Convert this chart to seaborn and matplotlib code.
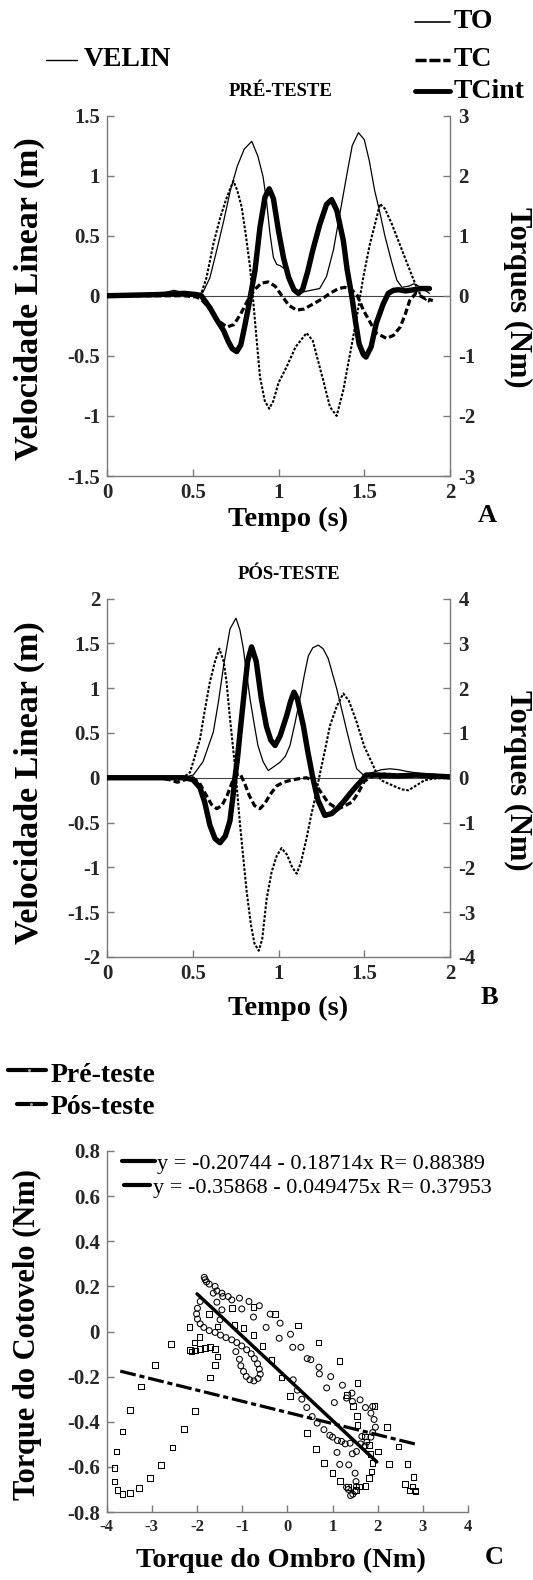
import matplotlib
matplotlib.use("Agg")
import matplotlib.pyplot as plt
import seaborn as sns
import numpy as np
from matplotlib.lines import Line2D

sns.set_theme(style="ticks")
plt.rcParams["font.family"] = ["Liberation Serif", "DejaVu Serif"]
plt.rcParams["font.weight"] = "bold"
plt.rcParams["axes.unicode_minus"] = False

# ---------------- DATA ----------------
# Panel A (pre-test) : VELIN in m (left axis), torques in Nm (right axis)
tA_vel = [0, 0.25, 0.32, 0.39, 0.46, 0.52, 0.56, 0.60, 0.64, 0.68, 0.72, 0.76, 0.80, 0.844, 0.88, 0.91,
          0.93, 0.95, 0.97, 0.99, 1.01, 1.05, 1.09, 1.11, 1.17, 1.24, 1.28, 1.32, 1.36, 1.40, 1.43, 1.466,
          1.50, 1.53, 1.56, 1.59, 1.62, 1.66, 1.69, 1.72, 1.76, 1.79, 1.83, 1.88]
vA_vel = [0, 0, 0.02, 0.045, 0.02, 0.0, 0.03, 0.15, 0.38, 0.62, 0.88, 1.08, 1.22, 1.285, 1.16, 0.99,
          0.79, 0.52, 0.32, 0.26, 0.25, 0.21, 0.06, 0.02, 0.04, 0.06, 0.16, 0.38, 0.70, 1.02, 1.25, 1.357,
          1.30, 1.12, 0.88, 0.70, 0.50, 0.28, 0.13, 0.07, 0.08, 0.10, 0.07, 0.02]

tA_TO = [0, 0.30, 0.40, 0.50, 0.55, 0.58, 0.62, 0.66, 0.70, 0.737, 0.76, 0.785, 0.81, 0.834, 0.85, 0.87,
         0.892, 0.92, 0.946, 0.97, 1.00, 1.048, 1.10, 1.164, 1.20, 1.26, 1.30, 1.339, 1.378, 1.407, 1.427,
         1.456, 1.495, 1.533, 1.573, 1.592, 1.62, 1.66, 1.69, 1.75, 1.80, 1.83, 1.865, 1.88]
nA_TO = [0, 0, 0.04, 0.0, 0.04, 0.30, 0.86, 1.30, 1.65, 1.91, 1.75, 1.48, 1.00, 0.48, 0.0, -0.65,
         -1.35, -1.75, -1.88, -1.75, -1.45, -1.18, -0.85, -0.62, -0.75, -1.40, -1.85, -2.0, -1.57, -1.12, -0.82,
         -0.36, 0.32, 0.86, 1.31, 1.53, 1.45, 1.20, 0.98, 0.54, 0.18, 0.0, -0.08, -0.10]

tA_TC = [0, 0.45, 0.52, 0.55, 0.60, 0.65, 0.70, 0.74, 0.78, 0.82, 0.86, 0.90, 0.94, 0.98, 1.02, 1.06,
         1.106, 1.15, 1.20, 1.25, 1.30, 1.35, 1.387, 1.42, 1.46, 1.495, 1.53, 1.57, 1.63, 1.67, 1.71, 1.74,
         1.765, 1.80, 1.85, 1.90]
nA_TC = [0, 0, -0.02, -0.06, -0.22, -0.42, -0.52, -0.48, -0.30, -0.08, 0.10, 0.21, 0.23, 0.16, 0.0, -0.16,
         -0.24, -0.22, -0.14, -0.06, 0.04, 0.12, 0.14, 0.12, 0.0, -0.24, -0.42, -0.62, -0.71, -0.66, -0.52, -0.30,
         -0.08, 0.04, -0.04, -0.08]

tA_TCi = [0, 0.30, 0.45, 0.52, 0.55, 0.60, 0.64, 0.68, 0.707, 0.73, 0.756, 0.78, 0.80, 0.824, 0.843, 0.863,
          0.892, 0.921, 0.946, 0.97, 1.00, 1.03, 1.06, 1.09, 1.116, 1.14, 1.17, 1.20, 1.24, 1.28, 1.31, 1.34,
          1.378, 1.40, 1.427, 1.45, 1.47, 1.495, 1.51, 1.54, 1.57, 1.61, 1.64, 1.67, 1.70, 1.74, 1.79, 1.83, 1.88]
nA_TCi = [0, 0.02, 0.04, 0.02, 0, -0.20, -0.40, -0.58, -0.76, -0.88, -0.93, -0.82, -0.55, -0.20, 0.10, 0.42,
          1.14, 1.64, 1.78, 1.62, 1.08, 0.62, 0.30, 0.10, 0.04, 0.10, 0.40, 0.76, 1.18, 1.52, 1.60, 1.42,
          0.92, 0.44, 0.0, -0.45, -0.80, -0.98, -1.02, -0.85, -0.46, -0.14, 0.04, 0.09, 0.10, 0.08, 0.10, 0.12, 0.12]

# Panel B (post-test)
tB_vel = [0, 0.40, 0.46, 0.503, 0.56, 0.62, 0.65, 0.68, 0.717, 0.752, 0.775, 0.795, 0.815, 0.834, 0.86, 0.88,
          0.91, 0.94, 0.97, 1.01, 1.04, 1.067, 1.095, 1.125, 1.15, 1.174, 1.20, 1.232, 1.26, 1.29, 1.34, 1.37,
          1.40, 1.43, 1.456, 1.495, 1.55, 1.60, 1.65, 1.70, 1.75, 1.82, 1.90, 2.0]
vB_vel = [0, 0.0, 0.01, 0.03, 0.18, 0.51, 0.85, 1.25, 1.66, 1.78, 1.65, 1.44, 1.15, 0.88, 0.58, 0.36,
          0.18, 0.08, 0.12, 0.175, 0.24, 0.36, 0.60, 0.88, 1.14, 1.36, 1.45, 1.48, 1.44, 1.33, 0.99, 0.75,
          0.51, 0.28, 0.10, 0.03, 0.06, 0.09, 0.10, 0.09, 0.07, 0.05, 0.04, 0.02]

tB_TO = [0, 0.40, 0.45, 0.484, 0.51, 0.542, 0.57, 0.60, 0.63, 0.655, 0.68, 0.697, 0.715, 0.736, 0.752, 0.776,
         0.795, 0.815, 0.84, 0.86, 0.885, 0.905, 0.931, 0.96, 0.99, 1.018, 1.05, 1.08, 1.106, 1.13, 1.163, 1.19,
         1.213, 1.24, 1.27, 1.30, 1.34, 1.378, 1.41, 1.456, 1.50, 1.534, 1.57, 1.60, 1.67, 1.72, 1.757, 1.80,
         1.85, 1.90, 2.0]
nB_TO = [0, 0.0, 0.02, 0.12, 0.45, 0.86, 1.50, 2.14, 2.60, 2.88, 2.60, 2.14, 1.40, 0.64, 0.0, -1.06,
         -1.80, -2.56, -3.30, -3.70, -3.86, -3.60, -2.70, -2.10, -1.74, -1.57, -1.72, -2.00, -2.14, -1.90, -1.36, -0.85,
         -0.46, 0.06, 0.60, 1.16, 1.60, 1.88, 1.72, 1.24, 0.70, 0.42, 0.12, -0.06, -0.18, -0.26, -0.28, -0.18,
         -0.06, -0.02, 0.0]

tB_TC = [0, 0.30, 0.36, 0.41, 0.46, 0.50, 0.54, 0.58, 0.61, 0.64, 0.67, 0.70, 0.73, 0.76, 0.776, 0.80,
         0.83, 0.86, 0.892, 0.92, 0.95, 0.99, 1.03, 1.067, 1.12, 1.163, 1.20, 1.247, 1.29, 1.346, 1.39, 1.43,
         1.47, 1.50, 1.55, 1.62, 1.70, 1.80, 1.90, 2.0]
nB_TC = [0, 0, -0.04, -0.10, -0.04, 0.0, -0.12, -0.40, -0.60, -0.69, -0.62, -0.40, -0.10, 0.08, 0.09, -0.10,
         -0.40, -0.62, -0.69, -0.58, -0.38, -0.18, -0.10, -0.06, -0.02, 0.0, -0.06, -0.32, -0.56, -0.70, -0.62, -0.54,
         -0.30, -0.08, 0.04, 0.08, 0.06, 0.04, 0.02, 0.0]

tB_TCi = [0, 0.45, 0.50, 0.542, 0.57, 0.60, 0.63, 0.659, 0.69, 0.717, 0.735, 0.746, 0.76, 0.776, 0.80, 0.82,
          0.843, 0.87, 0.90, 0.93, 0.955, 0.98, 1.01, 1.048, 1.07, 1.09, 1.11, 1.145, 1.17, 1.20, 1.23, 1.27,
          1.31, 1.345, 1.378, 1.42, 1.456, 1.49, 1.51, 1.58, 1.70, 1.80, 1.90, 2.0]
nB_TCi = [0, 0.0, -0.04, -0.22, -0.55, -1.06, -1.36, -1.45, -1.30, -0.96, -0.40, 0.0, 0.40, 1.02, 1.90, 2.60,
          2.92, 2.60, 1.76, 1.14, 0.84, 0.72, 0.94, 1.39, 1.70, 1.91, 1.76, 1.16, 0.60, 0.0, -0.50, -0.84,
          -0.80, -0.68, -0.54, -0.34, -0.18, -0.04, 0.06, 0.06, 0.04, 0.06, 0.04, 0.02]

# Panel C : shoulder torque (x) vs elbow torque (y)
pre_x = [-1.84, -1.82, -1.79, -1.73, -1.60, -1.56, -1.64, -1.45, -1.43, -1.56,
         -1.31, -1.23, -1.06, -1.01, -0.85, -0.75, -0.62, -0.47, -0.38, -0.16,
         -0.18, 0.07, 0.12, 0.30, 0.44, 0.52, 0.70, 0.71, 0.96, 0.87,
         1.04, 1.22, 1.31, 1.43, 1.44, 1.61, 1.73, 1.89, 1.85, 1.92,
         1.95, 1.89, 1.85, 1.76, 1.72, 1.65, 1.62, 1.53, 1.44, 1.39,
         1.28, 1.20, 1.11, 1.00, 0.94, 0.81, 0.66, 0.55, 0.43, 0.32,
         0.22, 0.13, 1.10, 1.16, 1.36, 1.50, 1.52, 1.53, 1.50, 1.45,
         1.40, 1.35, 1.31, -1.93, -1.99, -2.01, -1.99, -1.93, -1.85, -1.73,
         -1.60, -1.48, -1.36, -1.23, -1.12, -1.01, -0.90, -0.80, -0.73, -0.66,
         -0.62, -0.60, -0.65, -0.74, -0.83, -0.91, -0.97, -1.03, -1.06, -1.14,
         -1.45, -1.49]
pre_y = [0.24, 0.23, 0.22, 0.21, 0.20, 0.18, 0.17, 0.17, 0.155, 0.13,
         0.155, 0.14, 0.148, 0.10, 0.133, 0.064, 0.114, 0.018, 0.077, 0.037,
         -0.03, -0.012, -0.07, -0.07, -0.12, -0.125, -0.158, -0.188, -0.20, -0.25,
         -0.315, -0.238, -0.295, -0.273, -0.31, -0.303, -0.337, -0.332, -0.362, -0.39,
         -0.424, -0.448, -0.468, -0.49, -0.507, -0.465, -0.498, -0.532, -0.542, -0.495,
         -0.498, -0.487, -0.483, -0.468, -0.46, -0.435, -0.406, -0.377, -0.337, -0.30,
         -0.26, -0.214, -0.536, -0.589, -0.591, -0.628, -0.665, -0.687, -0.709, -0.721,
         -0.727, -0.70, -0.69, 0.133, 0.103, 0.078, 0.055, 0.034, 0.018, 0.004,
         -0.004, -0.016, -0.027, -0.037, -0.049, -0.064, -0.081, -0.099, -0.12, -0.143,
         -0.167, -0.189, -0.208, -0.219, -0.214, -0.199, -0.177, -0.152, -0.123, -0.089,
         0.096, 0.052]

post_x = [-2.17, -2.15, -2.12, -2.04, -1.93, -1.82, -1.71, -1.60, -1.55, -1.60,
          -1.71, -2.04, -2.29, -2.54, -2.80, -3.04, -3.28, -3.48, -3.65, -3.76,
          -3.83, -3.83, -3.78, -3.65, -3.48, -3.24, -2.93, -2.58, -2.06, -1.95,
          -1.73, -1.55, -1.23, -1.17, -0.97, -0.75, -0.75, -0.55, -0.35, -0.27,
          -0.13, 0.06, 0.23, 0.44, 0.63, 0.69, 0.81, 1.00, 1.15, 1.17,
          1.34, 1.32, 1.55, 1.54, 1.55, 1.45, 1.72, 1.81, 1.84, 1.89,
          1.86, 1.81, 1.73, 1.59, 1.52, 1.93, 2.01, 2.21, 2.25, 2.46,
          2.66, 2.61, 2.79, 2.77, 2.83, 2.84, 2.72]
post_y = [0.019, -0.081, -0.089, -0.084, -0.078, -0.074, -0.069, -0.077, -0.111, -0.148,
          -0.204, -0.352, -0.433, -0.514, -0.591, -0.65, -0.694, -0.716, -0.721, -0.702,
          -0.665, -0.606, -0.532, -0.443, -0.347, -0.244, -0.148, -0.055, -0.049, -0.025,
          0.077, 0.022, 0.103, 0.030, 0.015, -0.015, 0.108, -0.064, -0.126, 0.077,
          -0.204, -0.285, 0.027, -0.451, -0.521, -0.049, -0.583, -0.628, -0.13, -0.662,
          -0.69, -0.281, -0.229, -0.374, -0.414, -0.329, -0.465, -0.502, -0.542, -0.583,
          -0.62, -0.65, -0.684, -0.687, -0.702, -0.329, -0.532, -0.424, -0.588, -0.51,
          -0.588, -0.677, -0.646, -0.687, -0.705, -0.709, -0.705]

fit_pre = (-0.20744, -0.18714, 0.88389)     # intercept, slope, R
fit_post = (-0.35868, -0.049475, 0.37953)
fit_pre_range = (-2.0, 1.98)
fit_post_range = (-3.7, 2.85)

t_ticks = [0, 0.5, 1, 1.5, 2]
t_labels = ["0", "0.5", "1", "1.5", "2"]
vA_ticks = [-1.5, -1, -0.5, 0, 0.5, 1, 1.5]
vA_labels = ["-1.5", "-1", "-0.5", "0", "0.5", "1", "1.5"]
nA_ticks = [-3, -2, -1, 0, 1, 2, 3]
nA_labels = ["-3", "-2", "-1", "0", "1", "2", "3"]
vB_ticks = [-2, -1.5, -1, -0.5, 0, 0.5, 1, 1.5, 2]
vB_labels = ["-2", "-1.5", "-1", "-0.5", "0", "0.5", "1", "1.5", "2"]
nB_ticks = [-4, -3, -2, -1, 0, 1, 2, 3, 4]
nB_labels = ["-4", "-3", "-2", "-1", "0", "1", "2", "3", "4"]
cx_ticks = [-4, -3, -2, -1, 0, 1, 2, 3, 4]
cx_labels = ["-4", "-3", "-2", "-1", "0", "1", "2", "3", "4"]
cy_ticks = [-0.8, -0.6, -0.4, -0.2, 0, 0.2, 0.4, 0.6, 0.8]
cy_labels = ["-0.8", "-0.6", "-0.4", "-0.2", "0", "0.2", "0.4", "0.6", "0.8"]

# ---------------- FIGURE ----------------
W, H = 533, 1580
fig = plt.figure(figsize=(W / 100, H / 100), dpi=100)
fig.patch.set_facecolor("white")

def axes_px(l, t, r, b):
    return fig.add_axes([l / W, 1 - b / H, (r - l) / W, (b - t) / H])

def ftxt(x, y, s, **kw):
    return fig.text(x / W, 1 - y / H, s, **kw)

SPC = "#7a7a7a"
S_VEL = dict(color="black", lw=0.9)
S_TO = dict(color="black", lw=1.5, linestyle=(0, (1.3, 0.8)))
S_TC = dict(color="black", lw=2.3, linestyle=(0, (2.0, 1.0)))
S_TCI = dict(color="black", lw=3.9)

def style_main(ax, labelsize=15):
    ax.spines["top"].set_visible(False)
    ax.spines["right"].set_visible(False)
    for s in ["left", "bottom"]:
        ax.spines[s].set_color(SPC)
        ax.spines[s].set_linewidth(1.0)
    ax.tick_params(direction="in", length=5, width=1, color=SPC, labelsize=labelsize, pad=5)
    for lab in ax.get_xticklabels() + ax.get_yticklabels():
        lab.set_fontweight("bold")

def style_right(axr):
    for s in ["top", "left", "bottom"]:
        axr.spines[s].set_visible(False)
    axr.spines["right"].set_color(SPC)
    axr.spines["right"].set_linewidth(1.0)
    axr.tick_params(axis="y", direction="in", length=5, width=1, color=SPC, labelsize=15, pad=6)
    for lab in axr.get_yticklabels():
        lab.set_fontweight("bold")

def time_panel(top, bottom, vel, torques, vlim, vt, vl, nlim, nt, nl):
    ax = axes_px(107, top, 450, bottom)
    axr = ax.twinx()
    sns.lineplot(x=vel[0], y=vel[1], ax=ax, estimator=None, sort=False, **S_VEL)
    ax.axhline(0, color="#444", lw=0.8, zorder=0)
    (to, tc, tci) = torques
    sns.lineplot(x=to[0], y=to[1], ax=axr, estimator=None, sort=False, **S_TO)
    sns.lineplot(x=tc[0], y=tc[1], ax=axr, estimator=None, sort=False, **S_TC)
    sns.lineplot(x=tci[0], y=tci[1], ax=axr, estimator=None, sort=False, **S_TCI)
    ax.set_xlim(0, 2)
    ax.set_ylim(*vlim)
    axr.set_ylim(*nlim)
    ax.set_xticks(t_ticks)
    ax.set_xticklabels(t_labels)
    ax.set_yticks(vt)
    ax.set_yticklabels(vl)
    axr.set_yticks(nt)
    axr.set_yticklabels(nl)
    for a in (ax, axr):
        a.set_xlabel("")
        a.set_ylabel("")
    style_main(ax)
    style_right(axr)
    return ax, axr

# Panel A
time_panel(115.5, 476, (tA_vel, vA_vel),
           ((tA_TO, nA_TO), (tA_TC, nA_TC), (tA_TCi, nA_TCi)),
           (-1.5, 1.5), vA_ticks, vA_labels, (-3, 3), nA_ticks, nA_labels)
# Panel B
time_panel(598.5, 957, (tB_vel, vB_vel),
           ((tB_TO, nB_TO), (tB_TC, nB_TC), (tB_TCi, nB_TCi)),
           (-2, 2), vB_ticks, vB_labels, (-4, 4), nB_ticks, nB_labels)

# Panel C
axc = axes_px(106.7, 1151, 468, 1512)
sns.scatterplot(x=pre_x, y=pre_y, ax=axc, marker="o", s=18,
                facecolor="none", edgecolor="black", linewidth=0.75)
sns.scatterplot(x=post_x, y=post_y, ax=axc, marker="s", s=16,
                facecolor="none", edgecolor="black", linewidth=0.75)
for coll in axc.collections:
    coll.set_facecolor("none")
    coll.set_edgecolor("black")
xa = list(fit_pre_range)
sns.lineplot(x=xa, y=[fit_pre[0] + fit_pre[1] * v for v in xa], ax=axc,
             color="black", lw=2.5, estimator=None)
xb = list(fit_post_range)
sns.lineplot(x=xb, y=[fit_post[0] + fit_post[1] * v for v in xb], ax=axc,
             color="black", lw=2.3, linestyle=(0, (5, 1.2, 1.6, 1.2)), estimator=None)
axc.set_xlim(-4, 4)
axc.set_ylim(-0.8, 0.8)
axc.set_xticks(cx_ticks)
axc.set_xticklabels(cx_labels)
axc.set_yticks(cy_ticks)
axc.set_yticklabels(cy_labels)
axc.set_xlabel("")
axc.set_ylabel("")
style_main(axc)
axc.tick_params(axis="x", labelsize=12)
for lab in axc.get_xticklabels():
    lab.set_fontweight("bold")

# ---------------- TEXT / LEGENDS ----------------
def fig_line(x0, x1, y, **kw):
    fig.add_artist(Line2D([x0 / W, x1 / W], [1 - y / H, 1 - y / H], transform=fig.transFigure, **kw))

BOLD = dict(fontweight="bold", color="black")
# Panel A legends
fig_line(46, 77, 60, color="black", lw=1.0)
ftxt(84, 60, "VELIN", fontsize=20, va="center", ha="left", **BOLD)
fig_line(415, 450, 22, color="black", lw=1.2)
ftxt(454, 22, "TO", fontsize=20, va="center", ha="left", **BOLD)
fig_line(415, 450, 60, color="black", lw=2.5, linestyle=(0, (3.2, 0.8)))
ftxt(454, 60, "TC", fontsize=20, va="center", ha="left", **BOLD)
fig_line(415, 450, 91, color="black", lw=3.5)
ftxt(454, 91, "TCint", fontsize=20, va="center", ha="left", **BOLD)
ftxt(281, 91, "PRÉ-TESTE", fontsize=13.5, va="center", ha="center", **BOLD)

# Axis labels A
ftxt(29, 299, "Velocidade Linear (m)", fontsize=24.5, rotation=90, va="center", ha="center", **BOLD)
ftxt(518, 297, "Torques (Nm)", fontsize=22, rotation=-90, va="center", ha="center", **BOLD)
ftxt(288, 519, "Tempo (s)", fontsize=20.5, va="center", ha="center", **BOLD)
ftxt(478, 515, "A", fontsize=19, va="center", ha="left", **BOLD)

# Panel B
ftxt(289, 575, "PÓS-TESTE", fontsize=13.5, va="center", ha="center", **BOLD)
ftxt(29, 783, "Velocidade Linear (m)", fontsize=24.5, rotation=90, va="center", ha="center", **BOLD)
ftxt(518, 780, "Torques (Nm)", fontsize=22, rotation=-90, va="center", ha="center", **BOLD)
ftxt(288, 1008, "Tempo (s)", fontsize=20.5, va="center", ha="center", **BOLD)
ftxt(481, 997, "B", fontsize=19, va="center", ha="left", **BOLD)

# Panel C legends
fig_line(8, 46, 1070, color="black", lw=3.0)
fig.add_artist(Line2D([29 / W], [1 - 1070 / H], transform=fig.transFigure, marker="o",
                      markersize=2.2, markerfacecolor="#9a9a9a", markeredgecolor="none", lw=0))
ftxt(51, 1075, "Pré-teste", fontsize=20, va="center", ha="left", **BOLD)
fig_line(17, 46, 1104, color="black", lw=3.0)
fig.add_artist(Line2D([31 / W], [1 - 1104 / H], transform=fig.transFigure, marker="o",
                      markersize=2.2, markerfacecolor="#9a9a9a", markeredgecolor="none", lw=0))
ftxt(51, 1107, "Pós-teste", fontsize=20, va="center", ha="left", **BOLD)

fig_line(122, 155, 1161, color="black", lw=3.0)
ftxt(157, 1164, "y = %.5f - %.5fx R= %.5f" % (fit_pre[0], -fit_pre[1], fit_pre[2]),
     fontsize=16, va="center", ha="left", fontweight="normal", color="black")
fig_line(124, 150, 1185, color="black", lw=3.0)
ftxt(153, 1189, "y = %.5f - %.6fx R= %.5f" % (fit_post[0], -fit_post[1], fit_post[2]),
     fontsize=16, va="center", ha="left", fontweight="normal", color="black")

ftxt(27, 1334, "Torque do Cotovelo (Nm)", fontsize=22, rotation=90, va="center", ha="center", **BOLD)
ftxt(281, 1560, "Torque do Ombro (Nm)", fontsize=20.5, va="center", ha="center", **BOLD)
ftxt(485, 1557, "C", fontsize=19, va="center", ha="left", **BOLD)

fig.savefig("out.png", dpi=100, facecolor="white")
